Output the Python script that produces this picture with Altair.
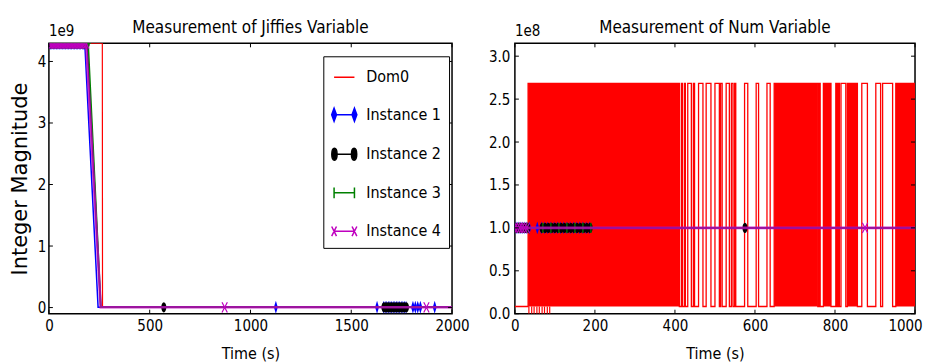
import altair as alt
import pandas as pd

FONT = "DejaVu Sans Condensed, DejaVu Sans, sans-serif"
YFONT = "DejaVu Sans"

SERIES = ["Dom0", "Instance 1", "Instance 2", "Instance 3", "Instance 4"]
COLORS = ["#ff0000", "#0000ff", "#000000", "#008000", "#bf00bf"]

TITLES = ["Measurement of Jiffies Variable", "Measurement of Num Variable"]
EXPONENTS = ["1e9", "1e8"]
X_TITLE = "Time (s)"
Y_TITLE = "Integer Magnitude"

# ---------------- Jiffies panel (left) ----------------
J_X_DOMAIN = [0, 2000]
J_Y_DOMAIN = [-1.0e8, 4.295e9]
J_X_TICKS = [0, 500, 1000, 1500, 2000]
J_Y_TICKS = [0, 1e9, 2e9, 3e9, 4e9]
J_TOP = 4.2930e9
J_LOW = 0.004e9
J_END = 2000

J_DOM0_T = [0, 265, 266, 2000]
J_DOM0_V = [4.2925e9, 4.2945e9, 0.002e9, 0.0025e9]

J_I1_TOP = [0, 8, 15, 23, 30, 38, 45, 53, 60, 68, 75, 83, 90, 98, 105, 113, 120, 128, 135, 143, 150, 158, 165, 172, 178]
J_I1_DROP = 244
J_I1_LOW = [1126, 1628, 1660, 1668, 1676, 1684, 1692, 1700, 1708, 1716, 1724, 1732, 1740, 1748, 1756, 1764, 1772, 1806, 1818, 1830, 1843, 1914]

J_I2_TOP = [0, 9, 18, 27, 36, 45, 54, 63, 72, 81, 90, 99, 108, 117, 126, 135, 144, 153, 162, 171, 180, 190]
J_I2_DROP = 257
J_I2_LOW = [570, 1662, 1670, 1678, 1686, 1694, 1702, 1710, 1718, 1726, 1734, 1742, 1750, 1758, 1766, 1774]

J_I3_TOP = [0, 10, 20, 30, 40, 50, 60, 70, 80, 90, 100, 110, 120, 130, 140, 150, 160, 170, 180, 195]
J_I3_DROP = 258
J_I3_LOW = []

J_I4_TOP = [0, 7, 14, 21, 28, 35, 42, 49, 56, 63, 70, 77, 84, 91, 98, 105, 112, 119, 126, 133, 140, 147, 154, 161, 168, 175, 185]
J_I4_DROP = 257
J_I4_LOW = [872, 1873]

# ---------------- Num panel (right) ----------------
N_X_DOMAIN = [0, 1000]
N_Y_DOMAIN = [0, 3.15e8]
N_X_TICKS = [0, 200, 400, 600, 800, 1000]
N_Y_TICKS = [0, 0.5e8, 1.0e8, 1.5e8, 2.0e8, 2.5e8, 3.0e8]
N_HIGH = 2.684e8
N_LOW = 0.084e8
N_ZERO = 0.0
N_INST = 1.0e8
N_END = 1000

# Dom0 high spans (start, end) in seconds
N_SPAN_START = [33, 416, 424, 432, 446, 459, 478, 500, 514, 528, 541, 549, 574, 603, 630, 648, 760, 771, 802, 808, 815, 831, 867, 902, 919, 952]
N_SPAN_END = [411, 419, 426, 441, 449, 470, 490, 511, 518, 536, 545, 552, 582, 609, 638, 757, 763, 790, 805, 811, 827, 856, 881, 914, 944, 1000]
# spans where the signal oscillates too fast to resolve (solid red)
N_DENSE_START = [33, 648, 771, 831, 952]
N_DENSE_END = [411, 757, 790, 856, 1000]
# short drops to zero
N_DIP_T = [35, 42, 48, 55, 61, 68, 74, 81, 87]

N_I1_T = [0, 5, 10, 15, 20, 25, 30, 36, 56, 66, 74, 82, 90, 98, 106, 114, 122, 130, 138, 146, 154, 162, 170, 178, 186]
N_I2_T = [2, 8, 14, 20, 26, 32, 68, 76, 84, 92, 100, 108, 116, 124, 132, 140, 148, 156, 164, 172, 180, 188, 575]
N_I3_T = [0, 10, 20, 30, 70, 90, 110, 130, 150, 170, 190]
N_I4_T = [0, 6, 12, 18, 24, 30, 875]

# ---------------- marker shapes ----------------
def ellipse(cx, rx, ry):
    kx, ky = 0.5523 * rx, 0.5523 * ry
    return (f"M{cx+rx},0 C{cx+rx},{ky} {cx+kx},{ry} {cx},{ry} "
            f"C{cx-kx},{ry} {cx-rx},{ky} {cx-rx},0 "
            f"C{cx-rx},{-ky} {cx-kx},{-ry} {cx},{-ry} "
            f"C{cx+kx},{-ry} {cx+rx},{-ky} {cx+rx},0 Z")

def diamond(cx, w, h):
    return f"M{cx},{-h} L{cx+w},0 L{cx},{h} L{cx-w},0 Z"

def cross(cx, w, h):
    return f"M{cx-w},{-h} L{cx+w},{h} M{cx-w},{h} L{cx+w},{-h}"

def plus(cx, w, h):
    return f"M{cx-w},0 L{cx+w},0 M{cx},{-h} L{cx},{h}"

P_DIAMOND = diamond(0, 0.3, 1)
P_CIRCLE = ellipse(0, 0.42, 0.85)
P_PLUS = plus(0, 0.45, 0.85)
P_X = cross(0, 0.45, 0.85)

LINE = "M-0.85,0 L0.85,0"
LEGEND_PATHS = [
    LINE,
    LINE + " " + diamond(-0.85, 0.2, 0.55) + " " + diamond(0.85, 0.2, 0.55),
    LINE + " " + ellipse(-0.82, 0.22, 0.5) + " " + ellipse(0.82, 0.22, 0.5),
    LINE + " " + plus(-0.85, 0.0, 0.45) + " " + plus(0.85, 0.0, 0.45),
    LINE + " " + cross(-0.85, 0.2, 0.4) + " " + cross(0.85, 0.2, 0.4),
]

W1, W2, H = 404, 401, 271


def jseries(top, drop, low):
    rows = [(t, J_TOP, 1) for t in top] + [(drop, J_LOW, 0)] + [(t, J_LOW, 1) for t in low] + [(J_END, J_LOW, 0)]
    return pd.DataFrame(rows, columns=["t", "v", "m"])


def nseries(ts):
    rows = [(t, N_INST, 1) for t in ts] + [(N_END, N_INST, 0)]
    return pd.DataFrame(rows, columns=["t", "v", "m"])


MARKERS = {
    "Instance 1": dict(shape=P_DIAMOND, filled=True, size=169, color="#0000ff", strokeWidth=0.5),
    "Instance 2": dict(shape=P_CIRCLE, filled=True, size=144, color="#000000", strokeWidth=0.5),
    "Instance 3": dict(shape=P_PLUS, filled=False, size=144, color="#008000", strokeWidth=1.2),
    "Instance 4": dict(shape=P_X, filled=False, size=144, color="#bf00bf", strokeWidth=1.2),
}
LINESTYLE = {
    "Instance 1": dict(color="#0000ff", strokeWidth=1.5),
    "Instance 2": dict(color="#000000", strokeWidth=1.5),
    "Instance 3": dict(color="#008000", strokeWidth=1.5),
    "Instance 4": dict(color="#bf00bf", strokeWidth=2.6, opacity=0.8),
}


def panel(xs, ys, xaxis, yaxis, width, xticks, yticks, red_layers, inst, expo, title, legend=False):
    X = lambda: alt.X("t:Q", scale=xs, axis=xaxis)
    Y = lambda: alt.Y("v:Q", scale=ys, axis=yaxis)
    layers = list(red_layers(X, Y))
    for name, df in inst:
        layers.append(alt.Chart(df).mark_line(clip=True, **LINESTYLE[name]).encode(x=X(), y=Y()))
        mk = df[df.m == 1]
        if len(mk):
            layers.append(alt.Chart(mk).mark_point(clip=True, opacity=1, **MARKERS[name]).encode(x=X(), y=Y()))
    xt = pd.DataFrame({"t": xticks})
    yt = pd.DataFrame({"v": yticks})
    tick = dict(color="black", strokeWidth=1)
    layers += [
        alt.Chart(xt).mark_rule(**tick).encode(x=X(), y=alt.value(0), y2=alt.value(4)),
        alt.Chart(xt).mark_rule(**tick).encode(x=X(), y=alt.value(H), y2=alt.value(H - 4)),
        alt.Chart(yt).mark_rule(**tick).encode(y=Y(), x=alt.value(0), x2=alt.value(4)),
        alt.Chart(yt).mark_rule(**tick).encode(y=Y(), x=alt.value(width), x2=alt.value(width - 4)),
        alt.Chart(pd.DataFrame({"label": [expo]})).mark_text(
            align="left", baseline="alphabetic", font=FONT, fontSize=15, color="black"
        ).encode(text="label:N", x=alt.value(0), y=alt.value(-7)),
        alt.Chart(pd.DataFrame({"label": [title]})).mark_text(
            align="center", baseline="alphabetic", font=FONT, fontSize=17, color="black"
        ).encode(text="label:N", x=alt.value(width / 2), y=alt.value(-10)),
    ]
    if legend:
        LEG = alt.Legend(
            title=None, orient="none", legendX=275, legendY=13, fillColor="white",
            strokeColor="black", padding=8, rowPadding=16.6, symbolSize=576,
            symbolStrokeWidth=1.5, labelFont=FONT, labelFontSize=16, labelOffset=9,
            labelColor="black", symbolOpacity=1, cornerRadius=0,
        )
        ldf = pd.DataFrame({"series": SERIES})
        layers.append(
            alt.Chart(ldf).mark_point(filled=True, clip=True).encode(
                x=alt.value(-1000), y=alt.value(-1000),
                shape=alt.Shape("series:N", scale=alt.Scale(domain=SERIES, range=LEGEND_PATHS), legend=LEG),
                fill=alt.Fill("series:N", scale=alt.Scale(domain=SERIES, range=COLORS), legend=LEG),
                stroke=alt.Stroke("series:N", scale=alt.Scale(domain=SERIES, range=COLORS), legend=LEG),
            )
        )
    return alt.layer(*layers).properties(width=width, height=H)


# ---------- left ----------
jxs = alt.Scale(domain=J_X_DOMAIN, nice=False, zero=False)
jys = alt.Scale(domain=J_Y_DOMAIN, nice=False, zero=False)
jxaxis = alt.Axis(values=J_X_TICKS, format="d", title=X_TITLE, labelFlush=False, labelPadding=5,
                  titlePadding=12, tickSize=0)
jyaxis = alt.Axis(values=J_Y_TICKS, labelExpr="format(datum.value / 1e9, 'd')", title=Y_TITLE,
                  titleFont=YFONT, titleFontSize=21, labelPadding=3, titlePadding=7, tickSize=0, labelFlush=False)


def j_red(X, Y):
    df = pd.DataFrame({"t": J_DOM0_T, "v": J_DOM0_V})
    return [alt.Chart(df).mark_line(clip=True, color="#ff0000", strokeWidth=1.2).encode(x=X(), y=Y())]


left = panel(
    jxs, jys, jxaxis, jyaxis, W1, J_X_TICKS, J_Y_TICKS, j_red,
    [("Instance 1", jseries(J_I1_TOP, J_I1_DROP, J_I1_LOW)),
     ("Instance 2", jseries(J_I2_TOP, J_I2_DROP, J_I2_LOW)),
     ("Instance 3", jseries(J_I3_TOP, J_I3_DROP, J_I3_LOW)),
     ("Instance 4", jseries(J_I4_TOP, J_I4_DROP, J_I4_LOW))],
    EXPONENTS[0], TITLES[0], legend=True,
)

# ---------- right ----------
nxs = alt.Scale(domain=N_X_DOMAIN, nice=False, zero=False)
nys = alt.Scale(domain=N_Y_DOMAIN, nice=False, zero=False)
nxaxis = alt.Axis(values=N_X_TICKS, format="d", title=X_TITLE, labelFlush=False, labelPadding=5,
                  titlePadding=12, tickSize=0,
                  labelOffset={"condition": {"test": "datum.value == 1000", "value": -10}, "value": 0})
nyaxis = alt.Axis(values=N_Y_TICKS, labelExpr="format(datum.value / 1e8, '.1f')", title=None,
                  labelPadding=5, tickSize=0, labelFlush=False)


def n_red(X, Y):
    step_t, step_v = [0], [N_LOW]
    for s, e in zip(N_SPAN_START, N_SPAN_END):
        step_t += [s, e]
        step_v += [N_HIGH, N_LOW]
    step_v[-1] = N_HIGH
    sdf = pd.DataFrame({"t": step_t, "v": step_v})
    ddf = pd.DataFrame({"t": N_DENSE_START, "e": N_DENSE_END, "v": [N_LOW] * len(N_DENSE_START),
                        "v2": [N_HIGH] * len(N_DENSE_START)})
    dip = pd.DataFrame({"t": N_DIP_T, "v": [N_ZERO] * len(N_DIP_T), "v2": [N_LOW] * len(N_DIP_T)})
    return [
        alt.Chart(ddf).mark_rect(clip=True, color="#ff0000").encode(x=X(), x2="e:Q", y=Y(), y2="v2:Q"),
        alt.Chart(sdf).mark_line(clip=True, color="#ff0000", strokeWidth=1.3, interpolate="step-after").encode(x=X(), y=Y()),
        alt.Chart(dip).mark_rule(clip=True, color="#ff0000", strokeWidth=1.2).encode(x=X(), y=Y(), y2="v2:Q"),
    ]


right = panel(
    nxs, nys, nxaxis, nyaxis, W2, N_X_TICKS, N_Y_TICKS, n_red,
    [("Instance 1", nseries(N_I1_T)),
     ("Instance 2", nseries(N_I2_T)),
     ("Instance 3", nseries(N_I3_T)),
     ("Instance 4", nseries(N_I4_T))],
    EXPONENTS[1], TITLES[1],
)

chart = alt.hconcat(left, right, spacing=17).configure(
    padding={"left": 0, "top": 10, "right": 0, "bottom": 0}
).configure_view(stroke="black", strokeWidth=1.5).configure_axis(
    grid=False, domain=False, ticks=False, labelFont=FONT, labelFontSize=15, labelColor="black",
    titleFont=FONT, titleFontSize=16, titleFontWeight="normal", titleColor="black",
)

chart.save("out.html", embed_options={"renderer": "svg", "actions": False})
